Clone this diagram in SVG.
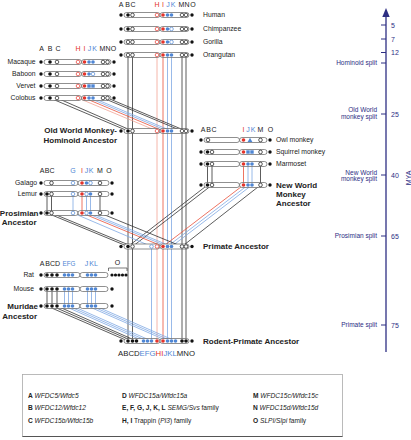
<svg xmlns="http://www.w3.org/2000/svg" width="411" height="440" viewBox="0 0 411 440">
<style>
text{font-family:"Liberation Sans",Arial,sans-serif;fill:#222}
.lab{font-size:6.8px}
.bl{font-size:8px;font-weight:bold}
.hd{font-size:7px}
.hr{fill:#e3342b}
.hb{fill:#4f86d4}
.bar{fill:#fff;stroke:#444;stroke-width:0.6}
.d{fill:#111}
.kf{fill:#111}
.ko{fill:#fff;stroke:#111;stroke-width:0.7}
.rf{fill:#e3342b}
.ro{fill:#fff;stroke:#e3342b;stroke-width:0.7}
.bf{fill:#4f86d4}
.bo{fill:#fff;stroke:#4f86d4;stroke-width:0.7}
.lk{stroke:#333;stroke-width:0.8;fill:none}
.lr{stroke:#e8503a;stroke-width:0.8;fill:none}
.lh{stroke:#f3a394;stroke-width:0.8;fill:none}
.lbb{stroke:#7fa8e3;stroke-width:0.8;fill:none}
.tl{fill:#2d2e83}
.ax{stroke:#2d2e83;fill:none}
.lg{font-size:6.6px}
.b{font-weight:bold}
.i{font-style:italic}
</style>

<g id="connectors">
<path class="lk" d="M128 55V131M132.5 55V131M182 55V131M186 55V131"/>
<path class="lh" d="M157 55V131"/><path class="lr" d="M163 55V131"/>
<path class="lbb" d="M167.5 55V131M171.5 55V131"/>
<path class="lk" d="M50 98L128 131M57 98L132.5 131M103 98L182 131M107.5 98L186 131"/>
<path class="lh" d="M78 98L157 131"/><path class="lr" d="M84.5 98L163 131"/>
<path class="lbb" d="M89 98L167.5 131M93 98L171.5 131"/>
<path class="lk" d="M128 131V246.5M132.5 131V246.5M182 131V246.5M186 131V246.5"/>
<path class="lh" d="M157 131V246.5"/><path class="lr" d="M163 131V246.5"/>
<path class="lbb" d="M167.5 131V246.5M171.5 131V246.5"/>
<path class="lk" d="M207.5 164V185M212 164V185M260.5 164V185"/>
<path class="lr" d="M243.5 164V185"/>
<path class="lbb" d="M248 164V185M252 164V185"/>
<path class="lk" d="M207.5 185L128 246.5M212 185L132.5 246.5M260.5 185L182 246.5"/>
<path class="lr" d="M243.5 185L163 246.5"/>
<path class="lbb" d="M248 185L167.5 246.5M252 185L171.5 246.5"/>
<path class="lk" d="M47 194V213M51.5 194V213M100 194V213"/>
<path class="lr" d="M82 194V213"/>
<path class="lbb" d="M73 194V213M86.5 194V213M90.5 194V213"/>
<path class="lk" d="M47 213L128 246.5M51.5 213L132.5 246.5M100 213L182 246.5"/>
<path class="lr" d="M82 213L163 246.5"/>
<path class="lbb" d="M73 213L151.5 246.5M86.5 213L167.5 246.5M90.5 213L171.5 246.5"/>
<path class="lk" d="M128 246.5V341M132.5 246.5V341M182 246.5V341M186 246.5V341"/>
<path class="lh" d="M157 246.5V341"/><path class="lr" d="M163 246.5V341"/>
<path class="lbb" d="M151.5 246.5V341M167.5 246.5V341M171.5 246.5V341"/>
<path class="lk" d="M47 289V306M52 289V306M57 289V306"/>
<path class="lbb" d="M64.5 289V306M68.5 289V306M72.5 289V306M87.5 289V306M91.5 289V306M95.5 289V306"/>
<path class="lk" d="M47 306L128 341M52 306L132.5 341M57 306L136.5 341"/>
<path class="lbb" d="M64.5 306L143.5 341M68.5 306L147.5 341M72.5 306L151.5 341M87.5 306L167.5 341M91.5 306L171.5 341M95.5 306L175.5 341"/>
</g>

<g id="hominoid-header">
<text class="hd" x="121" y="6.5" text-anchor="middle">A</text>
<text class="hd" x="127.5" y="6.5" text-anchor="middle">B</text>
<text class="hd" x="133" y="6.5" text-anchor="middle">C</text>
<text class="hd hr" x="157" y="6.5" text-anchor="middle">H</text>
<text class="hd hr" x="163" y="6.5" text-anchor="middle">I</text>
<text class="hd hb" x="168" y="6.5" text-anchor="middle">J</text>
<text class="hd hb" x="173" y="6.5" text-anchor="middle">K</text>
<text class="hd" x="181.5" y="6.5" text-anchor="middle">M</text>
<text class="hd" x="187" y="6.5" text-anchor="middle">N</text>
<text class="hd" x="193" y="6.5" text-anchor="middle">O</text>
</g>

<g id="human">
<rect class="bar" x="124" y="12.5" width="36" height="5" rx="2.5"/><rect class="bar" x="160" y="12.5" width="29" height="5" rx="2.5"/>
<circle class="d" cx="121" cy="15" r="1.7"/><circle class="d" cx="192" cy="15" r="1.7"/>
<circle class="kf" cx="128" cy="15" r="1.8"/><circle class="ko" cx="132.5" cy="15" r="1.8"/>
<circle class="ro" cx="157" cy="15" r="1.8"/><circle class="rf" cx="163" cy="15" r="1.8"/>
<circle class="bf" cx="167.5" cy="15" r="1.8"/><circle class="bf" cx="171.5" cy="15" r="1.8"/>
<circle class="ko" cx="182" cy="15" r="1.8"/><circle class="ko" cx="186" cy="15" r="1.8"/>
<text class="lab" x="203" y="17.4">Human</text>
</g>
<g id="chimpanzee">
<rect class="bar" x="124" y="26.5" width="36" height="5" rx="2.5"/><rect class="bar" x="160" y="26.5" width="29" height="5" rx="2.5"/>
<circle class="d" cx="121" cy="29" r="1.7"/><circle class="d" cx="192" cy="29" r="1.7"/>
<circle class="kf" cx="128" cy="29" r="1.8"/><circle class="ko" cx="132.5" cy="29" r="1.8"/>
<circle class="ro" cx="157" cy="29" r="1.8"/><circle class="rf" cx="163" cy="29" r="1.8"/>
<circle class="bf" cx="167.5" cy="29" r="1.8"/><circle class="bo" cx="171.5" cy="29" r="1.8"/>
<circle class="ko" cx="182" cy="29" r="1.8"/><circle class="ko" cx="186" cy="29" r="1.8"/>
<text class="lab" x="203" y="31.4">Chimpanzee</text>
</g>
<g id="gorilla">
<rect class="bar" x="124" y="39.5" width="36" height="5" rx="2.5"/><rect class="bar" x="160" y="39.5" width="29" height="5" rx="2.5"/>
<circle class="d" cx="121" cy="42" r="1.7"/><circle class="d" cx="192" cy="42" r="1.7"/>
<circle class="ko" cx="128" cy="42" r="1.8"/><circle class="ko" cx="132.5" cy="42" r="1.8"/>
<circle class="ro" cx="157" cy="42" r="1.8"/><circle class="rf" cx="163" cy="42" r="1.8"/>
<circle class="bf" cx="167.5" cy="42" r="1.8"/><circle class="bo" cx="171.5" cy="42" r="1.8"/>
<circle class="ko" cx="182" cy="42" r="1.8"/><circle class="ko" cx="186" cy="42" r="1.8"/>
<text class="lab" x="203" y="44.4">Gorilla</text>
</g>
<g id="orangutan">
<rect class="bar" x="124" y="52.5" width="36" height="5" rx="2.5"/><rect class="bar" x="160" y="52.5" width="29" height="5" rx="2.5"/>
<circle class="d" cx="121" cy="55" r="1.7"/><circle class="d" cx="192" cy="55" r="1.7"/>
<circle class="ko" cx="128" cy="55" r="1.8"/><circle class="ko" cx="132.5" cy="55" r="1.8"/>
<circle class="ro" cx="157" cy="55" r="1.8"/><circle class="rf" cx="163" cy="55" r="1.8"/>
<circle class="bf" cx="167.5" cy="55" r="1.8"/><circle class="bf" cx="171.5" cy="55" r="1.8"/>
<circle class="ko" cx="182" cy="55" r="1.8"/><circle class="ko" cx="186" cy="55" r="1.8"/>
<text class="lab" x="203" y="57.4">Orangutan</text>
</g>

<g id="owm-header">
<text class="hd" x="41.5" y="50.5" text-anchor="middle">A</text>
<text class="hd" x="50" y="50.5" text-anchor="middle">B</text>
<text class="hd" x="58" y="50.5" text-anchor="middle">C</text>
<text class="hd hr" x="78" y="50.5" text-anchor="middle">H</text>
<text class="hd hr" x="84.5" y="50.5" text-anchor="middle">I</text>
<text class="hd hb" x="89.5" y="50.5" text-anchor="middle">J</text>
<text class="hd hb" x="94.5" y="50.5" text-anchor="middle">K</text>
<text class="hd" x="102.5" y="50.5" text-anchor="middle">M</text>
<text class="hd" x="108" y="50.5" text-anchor="middle">N</text>
<text class="hd" x="113.5" y="50.5" text-anchor="middle">O</text>
</g>
<g id="macaque">
<rect class="bar" x="44" y="59.5" width="37.5" height="5" rx="2.5"/><rect class="bar" x="81.5" y="59.5" width="29.5" height="5" rx="2.5"/>
<circle class="d" cx="41" cy="62" r="1.7"/><circle class="d" cx="114" cy="62" r="1.7"/>
<circle class="kf" cx="50" cy="62" r="1.8"/><circle class="ko" cx="57" cy="62" r="1.8"/>
<circle class="ro" cx="78" cy="62" r="1.8"/><circle class="rf" cx="84.5" cy="62" r="1.8"/>
<circle class="bf" cx="89" cy="62" r="1.8"/><circle class="bf" cx="93" cy="62" r="1.8"/>
<circle class="ko" cx="103" cy="62" r="1.8"/><circle class="ko" cx="107.5" cy="62" r="1.8"/>
<text class="lab" x="35.5" y="64.4" text-anchor="end">Macaque</text>
</g>
<g id="baboon">
<rect class="bar" x="44" y="71.5" width="37.5" height="5" rx="2.5"/><rect class="bar" x="81.5" y="71.5" width="29.5" height="5" rx="2.5"/>
<circle class="d" cx="41" cy="74" r="1.7"/><circle class="d" cx="114" cy="74" r="1.7"/>
<circle class="kf" cx="50" cy="74" r="1.8"/><circle class="ko" cx="57" cy="74" r="1.8"/>
<circle class="ro" cx="78" cy="74" r="1.8"/><circle class="rf" cx="84.5" cy="74" r="1.8"/>
<circle class="bf" cx="89" cy="74" r="1.8"/><circle class="bo" cx="93" cy="74" r="1.8"/>
<circle class="ko" cx="103" cy="74" r="1.8"/><circle class="ko" cx="107.5" cy="74" r="1.8"/>
<text class="lab" x="35.5" y="76.4" text-anchor="end">Baboon</text>
</g>
<g id="vervet">
<rect class="bar" x="44" y="83.5" width="37.5" height="5" rx="2.5"/><rect class="bar" x="81.5" y="83.5" width="29.5" height="5" rx="2.5"/>
<circle class="d" cx="41" cy="86" r="1.7"/><circle class="d" cx="114" cy="86" r="1.7"/>
<circle class="kf" cx="50" cy="86" r="1.8"/><circle class="ko" cx="57" cy="86" r="1.8"/>
<circle class="ro" cx="78" cy="86" r="1.8"/><circle class="rf" cx="84.5" cy="86" r="1.8"/>
<rect class="bf" x="87.3" y="84.3" width="3.4" height="3.4"/><rect class="bf" x="91.3" y="84.3" width="3.4" height="3.4"/>
<circle class="ko" cx="103" cy="86" r="1.8"/><circle class="ko" cx="107.5" cy="86" r="1.8"/>
<text class="lab" x="35.5" y="88.4" text-anchor="end">Vervet</text>
</g>
<g id="colobus">
<rect class="bar" x="44" y="95.5" width="37.5" height="5" rx="2.5"/><rect class="bar" x="81.5" y="95.5" width="29.5" height="5" rx="2.5"/>
<circle class="d" cx="41" cy="98" r="1.7"/><circle class="d" cx="114" cy="98" r="1.7"/>
<circle class="kf" cx="50" cy="98" r="1.8"/><circle class="ko" cx="57" cy="98" r="1.8"/>
<circle class="ro" cx="78" cy="98" r="1.8"/><circle class="rf" cx="84.5" cy="98" r="1.8"/>
<circle class="bf" cx="89" cy="98" r="1.8"/><circle class="bf" cx="93" cy="98" r="1.8"/>
<circle class="ko" cx="103" cy="98" r="1.8"/><circle class="ko" cx="107.5" cy="98" r="1.8"/>
<text class="lab" x="35.5" y="100.4" text-anchor="end">Colobus</text>
</g>

<g id="owm-hominoid-ancestor">
<rect class="bar" x="124" y="128.5" width="36" height="5" rx="2.5"/><rect class="bar" x="160" y="128.5" width="29" height="5" rx="2.5"/>
<circle class="d" cx="121" cy="131" r="1.7"/><circle class="d" cx="192" cy="131" r="1.7"/>
<circle class="kf" cx="128" cy="131" r="1.8"/><circle class="ko" cx="132.5" cy="131" r="1.8"/>
<circle class="ro" cx="157" cy="131" r="1.8"/><circle class="rf" cx="163" cy="131" r="1.8"/>
<circle class="bf" cx="167.5" cy="131" r="1.8"/><circle class="bf" cx="171.5" cy="131" r="1.8"/>
<circle class="ko" cx="182" cy="131" r="1.8"/><circle class="ko" cx="186" cy="131" r="1.8"/>
<text class="bl" x="117" y="132.9" text-anchor="end">Old World Monkey-</text>
<text class="bl" x="117" y="142.9" text-anchor="end">Hominoid Ancestor</text>
</g>

<g id="nwm-header">
<text class="hd" x="203" y="131.5" text-anchor="middle">A</text>
<text class="hd" x="208.5" y="131.5" text-anchor="middle">B</text>
<text class="hd" x="214" y="131.5" text-anchor="middle">C</text>
<text class="hd hr" x="243.5" y="131.5" text-anchor="middle">I</text>
<text class="hd hb" x="248" y="131.5" text-anchor="middle">J</text>
<text class="hd hb" x="253" y="131.5" text-anchor="middle">K</text>
<text class="hd" x="260.5" y="131.5" text-anchor="middle">M</text>
<text class="hd" x="270.5" y="131.5" text-anchor="middle">O</text>
</g>
<g id="owl-monkey">
<rect class="bar" x="204" y="137.5" width="35.5" height="5" rx="2.5"/><rect class="bar" x="239.5" y="137.5" width="27.5" height="5" rx="2.5"/>
<circle class="d" cx="201" cy="140" r="1.7"/><circle class="d" cx="270" cy="140" r="1.7"/>
<circle class="ko" cx="208" cy="140" r="1.8"/>
<circle class="rf" cx="243.5" cy="140" r="1.8"/>
<polygon class="bf" points="250,137.8 252.4,142 247.6,142"/>
<circle class="ko" cx="260.5" cy="140" r="1.8"/>
<text class="lab" x="276" y="142.4">Owl monkey</text>
</g>
<g id="squirrel-monkey">
<rect class="bar" x="204" y="149.5" width="35.5" height="5" rx="2.5"/><rect class="bar" x="239.5" y="149.5" width="27.5" height="5" rx="2.5"/>
<circle class="d" cx="201" cy="152" r="1.7"/><circle class="d" cx="270" cy="152" r="1.7"/>
<circle class="kf" cx="207.5" cy="152" r="1.8"/><circle class="ko" cx="212" cy="152" r="1.8"/>
<circle class="rf" cx="243.5" cy="152" r="1.8"/>
<rect class="bf" x="246.3" y="150.3" width="3.4" height="3.4"/><rect class="bf" x="250.3" y="150.3" width="3.4" height="3.4"/>
<circle class="ko" cx="260.5" cy="152" r="1.8"/>
<text class="lab" x="276" y="154.4">Squirrel monkey</text>
</g>
<g id="marmoset">
<rect class="bar" x="204" y="161.5" width="35.5" height="5" rx="2.5"/><rect class="bar" x="239.5" y="161.5" width="27.5" height="5" rx="2.5"/>
<circle class="d" cx="201" cy="164" r="1.7"/><circle class="d" cx="270" cy="164" r="1.7"/>
<circle class="kf" cx="207.5" cy="164" r="1.8"/><circle class="ko" cx="212" cy="164" r="1.8"/>
<circle class="rf" cx="243.5" cy="164" r="1.8"/>
<circle class="bf" cx="248" cy="164" r="1.8"/><circle class="bf" cx="252" cy="164" r="1.8"/>
<circle class="ko" cx="260.5" cy="164" r="1.8"/>
<text class="lab" x="276" y="166.4">Marmoset</text>
</g>
<g id="nwm-ancestor">
<rect class="bar" x="204" y="182.5" width="35.5" height="5" rx="2.5"/><rect class="bar" x="239.5" y="182.5" width="27.5" height="5" rx="2.5"/>
<circle class="d" cx="201" cy="185" r="1.7"/><circle class="d" cx="270" cy="185" r="1.7"/>
<circle class="kf" cx="207.5" cy="185" r="1.8"/><circle class="ko" cx="212" cy="185" r="1.8"/>
<circle class="rf" cx="243.5" cy="185" r="1.8"/>
<circle class="bf" cx="248" cy="185" r="1.8"/><circle class="bf" cx="252" cy="185" r="1.8"/>
<circle class="ko" cx="260.5" cy="185" r="1.8"/>
<text class="bl" x="276" y="187.9">New World</text>
<text class="bl" x="276" y="197.4">Monkey</text>
<text class="bl" x="276" y="206.4">Ancestor</text>
</g>

<g id="prosimian-header">
<text class="hd" x="42" y="172.5" text-anchor="middle">A</text>
<text class="hd" x="47" y="172.5" text-anchor="middle">B</text>
<text class="hd" x="52" y="172.5" text-anchor="middle">C</text>
<text class="hd hb" x="73" y="172.5" text-anchor="middle">G</text>
<text class="hd hr" x="82" y="172.5" text-anchor="middle">I</text>
<text class="hd hb" x="86.5" y="172.5" text-anchor="middle">J</text>
<text class="hd hb" x="91" y="172.5" text-anchor="middle">K</text>
<text class="hd" x="100" y="172.5" text-anchor="middle">M</text>
<text class="hd" x="109" y="172.5" text-anchor="middle">O</text>
</g>
<g id="galago">
<rect class="bar" x="44" y="180.5" width="34" height="5" rx="2.5"/><rect class="bar" x="78" y="180.5" width="31" height="5" rx="2.5"/>
<circle class="d" cx="41" cy="183" r="1.7"/><circle class="d" cx="112" cy="183" r="1.7"/>
<circle class="ko" cx="51.5" cy="183" r="1.8"/><circle class="bo" cx="73" cy="183" r="1.8"/>
<circle class="rf" cx="82" cy="183" r="1.8"/>
<circle class="bf" cx="86.5" cy="183" r="1.8"/><circle class="bo" cx="90.5" cy="183" r="1.8"/>
<circle class="ko" cx="100" cy="183" r="1.8"/>
<text class="lab" x="37" y="185.4" text-anchor="end">Galago</text>
</g>
<g id="lemur">
<rect class="bar" x="44" y="191.5" width="34" height="5" rx="2.5"/><rect class="bar" x="78" y="191.5" width="31" height="5" rx="2.5"/>
<circle class="d" cx="41" cy="194" r="1.7"/><circle class="d" cx="112" cy="194" r="1.7"/>
<circle class="kf" cx="47" cy="194" r="1.8"/><circle class="ko" cx="51.5" cy="194" r="1.8"/>
<circle class="bo" cx="73" cy="194" r="1.8"/><circle class="rf" cx="82" cy="194" r="1.8"/>
<circle class="bo" cx="86.5" cy="194" r="1.8"/><circle class="bf" cx="90.5" cy="194" r="1.8"/>
<circle class="ko" cx="100" cy="194" r="1.8"/>
<text class="lab" x="37" y="196.4" text-anchor="end">Lemur</text>
</g>
<g id="prosimian-ancestor">
<rect class="bar" x="44" y="210.5" width="34" height="5" rx="2.5"/><rect class="bar" x="78" y="210.5" width="31" height="5" rx="2.5"/>
<circle class="d" cx="41" cy="213" r="1.7"/><circle class="d" cx="112" cy="213" r="1.7"/>
<circle class="kf" cx="47" cy="213" r="1.8"/><circle class="ko" cx="51.5" cy="213" r="1.8"/>
<circle class="bo" cx="73" cy="213" r="1.8"/><circle class="rf" cx="82" cy="213" r="1.8"/>
<circle class="bo" cx="86.5" cy="213" r="1.8"/><circle class="bf" cx="90.5" cy="213" r="1.8"/>
<circle class="ko" cx="100" cy="213" r="1.8"/>
<text class="bl" x="38.5" y="215.9" text-anchor="end">Prosimian</text>
<text class="bl" x="36.5" y="224.9" text-anchor="end">Ancestor</text>
</g>

<g id="primate-ancestor">
<rect class="bar" x="124" y="244" width="36" height="5" rx="2.5"/><rect class="bar" x="160" y="244" width="29" height="5" rx="2.5"/>
<circle class="d" cx="121" cy="246.5" r="1.7"/><circle class="d" cx="192" cy="246.5" r="1.7"/>
<circle class="kf" cx="128" cy="246.5" r="1.8"/><circle class="ko" cx="132.5" cy="246.5" r="1.8"/>
<circle class="bo" cx="151.5" cy="246.5" r="1.8"/>
<circle class="ro" cx="157" cy="246.5" r="1.8"/><circle class="rf" cx="163" cy="246.5" r="1.8"/>
<circle class="bf" cx="167.5" cy="246.5" r="1.8"/><circle class="bf" cx="171.5" cy="246.5" r="1.8"/>
<circle class="ko" cx="182" cy="246.5" r="1.8"/><circle class="ko" cx="186" cy="246.5" r="1.8"/>
<text class="bl" x="203" y="249.4">Primate Ancestor</text>
</g>

<g id="rodent-header">
<text class="hd" x="42" y="265.5" text-anchor="middle">A</text>
<text class="hd" x="47.5" y="265.5" text-anchor="middle">B</text>
<text class="hd" x="52.5" y="265.5" text-anchor="middle">C</text>
<text class="hd" x="57.5" y="265.5" text-anchor="middle">D</text>
<text class="hd hb" x="62.5" y="265.5" textLength="13" lengthAdjust="spacingAndGlyphs">EFG</text>
<text class="hd hb" x="86.5" y="265.5" text-anchor="middle">J</text>
<text class="hd hb" x="91.5" y="265.5" text-anchor="middle">K</text>
<text class="hd hb" x="96" y="265.5" text-anchor="middle">L</text>
<text class="hd" x="117.5" y="264.5" text-anchor="middle">O</text>
<path d="M108.5 271V268H127V271" fill="none" stroke="#222" stroke-width="0.6"/>
</g>
<g id="rat">
<rect class="bar" x="44" y="272.5" width="36" height="5" rx="2.5"/><rect class="bar" x="80" y="272.5" width="28" height="5" rx="2.5"/>
<circle class="d" cx="41" cy="275" r="1.7"/>
<circle class="kf" cx="47" cy="275" r="1.8"/><circle class="kf" cx="52" cy="275" r="1.8"/><circle class="kf" cx="57" cy="275" r="1.8"/>
<circle class="bf" cx="64.5" cy="275" r="1.8"/><circle class="bf" cx="68.5" cy="275" r="1.8"/><circle class="bf" cx="72.5" cy="275" r="1.8"/>
<circle class="bf" cx="87.5" cy="275" r="1.8"/><circle class="bf" cx="91.5" cy="275" r="1.8"/><circle class="bf" cx="95.5" cy="275" r="1.8"/>
<circle class="d" cx="112" cy="275" r="1.6"/><circle class="d" cx="115.5" cy="275" r="1.6"/><circle class="d" cx="119" cy="275" r="1.6"/><circle class="d" cx="122.5" cy="275" r="1.6"/><circle class="d" cx="126" cy="275" r="1.6"/>
<text class="lab" x="34" y="277.4" text-anchor="end">Rat</text>
</g>
<g id="mouse">
<rect class="bar" x="44" y="286.5" width="36" height="5" rx="2.5"/><rect class="bar" x="80" y="286.5" width="28" height="5" rx="2.5"/>
<circle class="d" cx="41" cy="289" r="1.7"/><circle class="d" cx="112" cy="289" r="1.7"/>
<circle class="kf" cx="47" cy="289" r="1.8"/><circle class="kf" cx="52" cy="289" r="1.8"/><circle class="kf" cx="57" cy="289" r="1.8"/>
<circle class="bf" cx="64.5" cy="289" r="1.8"/><circle class="bf" cx="68.5" cy="289" r="1.8"/><circle class="bf" cx="72.5" cy="289" r="1.8"/>
<circle class="bf" cx="87.5" cy="289" r="1.8"/><circle class="bf" cx="91.5" cy="289" r="1.8"/><circle class="bf" cx="95.5" cy="289" r="1.8"/>
<text class="lab" x="34" y="291.4" text-anchor="end">Mouse</text>
</g>
<g id="muridae-ancestor">
<rect class="bar" x="44" y="303.5" width="36" height="5" rx="2.5"/><rect class="bar" x="80" y="303.5" width="28" height="5" rx="2.5"/>
<circle class="d" cx="41" cy="306" r="1.7"/><circle class="d" cx="112" cy="306" r="1.7"/>
<circle class="kf" cx="47" cy="306" r="1.8"/><circle class="kf" cx="52" cy="306" r="1.8"/><circle class="kf" cx="57" cy="306" r="1.8"/>
<circle class="bf" cx="64.5" cy="306" r="1.8"/><circle class="bf" cx="68.5" cy="306" r="1.8"/><circle class="bf" cx="72.5" cy="306" r="1.8"/>
<circle class="bf" cx="87.5" cy="306" r="1.8"/><circle class="bf" cx="91.5" cy="306" r="1.8"/><circle class="bf" cx="95.5" cy="306" r="1.8"/>
<text class="bl" x="38" y="308.9" text-anchor="end">Muridae</text>
<text class="bl" x="37" y="318.9" text-anchor="end">Ancestor</text>
</g>

<g id="rodent-primate-ancestor">
<rect class="bar" x="124" y="338.5" width="36" height="5" rx="2.5"/><rect class="bar" x="160" y="338.5" width="29" height="5" rx="2.5"/>
<circle class="d" cx="121" cy="341" r="1.7"/><circle class="d" cx="192" cy="341" r="1.7"/>
<circle class="kf" cx="128" cy="341" r="1.8"/><circle class="kf" cx="132.5" cy="341" r="1.8"/><circle class="kf" cx="136.5" cy="341" r="1.8"/>
<circle class="bf" cx="143.5" cy="341" r="1.8"/><circle class="bf" cx="147.5" cy="341" r="1.8"/><circle class="bf" cx="151.5" cy="341" r="1.8"/>
<circle class="rf" cx="157" cy="341" r="1.8"/><circle class="rf" cx="163" cy="341" r="1.8"/>
<circle class="bf" cx="167.5" cy="341" r="1.8"/><circle class="bf" cx="171.5" cy="341" r="1.8"/><circle class="bf" cx="175.5" cy="341" r="1.8"/>
<circle class="kf" cx="182" cy="341" r="1.8"/><circle class="kf" cx="186" cy="341" r="1.8"/>
<text class="hd" x="118" y="355.5" textLength="77" lengthAdjust="spacingAndGlyphs">ABCD<tspan class="hb">EFG</tspan><tspan class="hr">HI</tspan><tspan class="hb">JKL</tspan>MNO</text>
<text class="bl" x="203" y="343.9">Rodent-Primate Ancestor</text>
</g>

<g id="timeline">
<line class="ax" x1="386" y1="14" x2="386" y2="352" stroke-width="1.3"/>
<polygon points="386,8 382.3,17 389.7,17" fill="#2d2e83"/>
<path class="ax" stroke-width="1" d="M381 25H386M381 39H386M381 52.5H386M381 63H386M381 114H386M381 175H386M381 236H386M381 325H386"/>
<g font-size="7px">
<text class="tl" x="391" y="27.5">5</text>
<text class="tl" x="391" y="41.5">7</text>
<text class="tl" x="391" y="55">12</text>
<text class="tl" x="391" y="116.5">25</text>
<text class="tl" x="391" y="177.5">40</text>
<text class="tl" x="391" y="238.5">65</text>
<text class="tl" x="391" y="327.5">75</text>
</g>
<g font-size="6.5px" text-anchor="end">
<text class="tl" x="377" y="65.3">Hominoid split</text>
<text class="tl" x="377" y="111.5">Old World</text>
<text class="tl" x="377" y="118.8">monkey split</text>
<text class="tl" x="377" y="174.5">New World</text>
<text class="tl" x="377" y="181">monkey split</text>
<text class="tl" x="377" y="238.3">Prosimian split</text>
<text class="tl" x="377" y="327.3">Primate split</text>
</g>
<text class="tl" font-size="7px" text-anchor="middle" transform="translate(411,178) rotate(-90)">MYA</text>
</g>

<g id="legend">
<rect x="22.5" y="374.5" width="320" height="62" fill="#fff" stroke="#aaa" stroke-width="0.8"/>
<line x1="22.5" y1="436.5" x2="342.5" y2="436.5" stroke="#555" stroke-width="1.2"/>
<text class="lg" x="28" y="397.5"><tspan class="b">A</tspan> <tspan class="i">WFDC5/Wfdc5</tspan></text>
<text class="lg" x="28" y="410"><tspan class="b">B</tspan> <tspan class="i">WFDC12/Wfdc12</tspan></text>
<text class="lg" x="28" y="422.5"><tspan class="b">C</tspan> <tspan class="i">WFDC15b/Wfdc15b</tspan></text>
<text class="lg" x="122" y="397.5"><tspan class="b">D</tspan> <tspan class="i">WFDC15a/Wfdc15a</tspan></text>
<text class="lg" x="122" y="410"><tspan class="b">E, F, G, J, K, L</tspan> <tspan class="i">SEMG/Svs</tspan> family</text>
<text class="lg" x="122" y="422.5"><tspan class="b">H, I</tspan> Trappin (<tspan class="i">PI3</tspan>) family</text>
<text class="lg" x="253" y="397.5"><tspan class="b">M</tspan> <tspan class="i">WFDC15c/Wfdc15c</tspan></text>
<text class="lg" x="253" y="410"><tspan class="b">N</tspan> <tspan class="i">WFDC15d/Wfdc15d</tspan></text>
<text class="lg" x="253" y="422.5"><tspan class="b">O</tspan> <tspan class="i">SLPI/Slpi</tspan> family</text>
</g>
</svg>
